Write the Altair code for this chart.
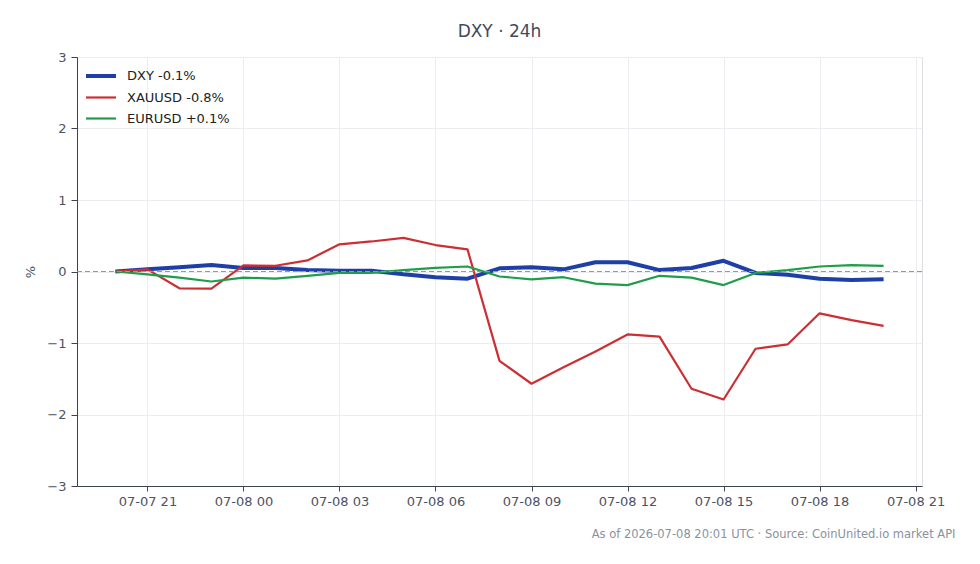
import altair as alt
import pandas as pd

# Hourly timestamps (local time) for the 24h window
hours = [
    "2026-07-07T20:00", "2026-07-07T21:00", "2026-07-07T22:00", "2026-07-07T23:00",
    "2026-07-08T00:00", "2026-07-08T01:00", "2026-07-08T02:00", "2026-07-08T03:00",
    "2026-07-08T04:00", "2026-07-08T05:00", "2026-07-08T06:00", "2026-07-08T07:00",
    "2026-07-08T08:00", "2026-07-08T09:00", "2026-07-08T10:00", "2026-07-08T11:00",
    "2026-07-08T12:00", "2026-07-08T13:00", "2026-07-08T14:00", "2026-07-08T15:00",
    "2026-07-08T16:00", "2026-07-08T17:00", "2026-07-08T18:00", "2026-07-08T19:00",
    "2026-07-08T20:00",
]

# Percent change from the start of the window
dxy = [0.00, 0.03, 0.06, 0.09, 0.05, 0.05, 0.02, 0.01, 0.01, -0.04, -0.08, -0.10,
       0.045, 0.06, 0.03, 0.13, 0.13, 0.02, 0.05, 0.15, -0.02, -0.045, -0.10, -0.12, -0.11]
xauusd = [0.00, 0.03, -0.235, -0.24, 0.085, 0.08, 0.155, 0.38, 0.42, 0.47, 0.37, 0.31,
          -1.25, -1.57, -1.34, -1.12, -0.88, -0.91, -1.64, -1.79, -1.08, -1.02, -0.585, -0.68, -0.76]
eurusd = [0.00, -0.04, -0.085, -0.14, -0.085, -0.10, -0.06, -0.02, -0.02, 0.02, 0.05, 0.07,
          -0.07, -0.11, -0.08, -0.17, -0.19, -0.06, -0.085, -0.19, -0.02, 0.02, 0.07, 0.09, 0.08]

series_names = ["DXY", "XAUUSD", "EURUSD"]
series_values = [dxy, xauusd, eurusd]
series_colors = ["#1e3fa6", "#cc2f33", "#1f9d4b"]
series_widths = [4, 2.2, 2.2]

y_ticks = [-3, -2, -1, 0, 1, 2, 3]
x_ticks = [
    alt.DateTime(year=2026, month=7, date=7, hours=21),
    alt.DateTime(year=2026, month=7, date=8, hours=0),
    alt.DateTime(year=2026, month=7, date=8, hours=3),
    alt.DateTime(year=2026, month=7, date=8, hours=6),
    alt.DateTime(year=2026, month=7, date=8, hours=9),
    alt.DateTime(year=2026, month=7, date=8, hours=12),
    alt.DateTime(year=2026, month=7, date=8, hours=15),
    alt.DateTime(year=2026, month=7, date=8, hours=18),
    alt.DateTime(year=2026, month=7, date=8, hours=21),
]
x_domain = [
    alt.DateTime(year=2026, month=7, date=7, hours=18, minutes=48),
    alt.DateTime(year=2026, month=7, date=8, hours=21, minutes=12),
]

footer = "As of 2026-07-08 20:01 UTC · Source: CoinUnited.io market API"

# Legend label carries the net change over the window
labels = [f"{n} {v[-1]:+.1f}%" for n, v in zip(series_names, series_values)]

rows = []
for label, values in zip(labels, series_values):
    for t, v in zip(hours, values):
        rows.append({"time": t, "pct": v, "series": label})
df = pd.DataFrame(rows)

FONT = "DejaVu Sans"
TEXT = "#4a5466"

x_enc = alt.X(
    "time:T",
    scale=alt.Scale(domain=x_domain),
    axis=alt.Axis(
        values=x_ticks, format="%m-%d %H", grid=True, gridColor="#ebedf0",
        tickSize=5, labelPadding=4, labelFontSize=13, labelColor=TEXT, labelFont=FONT,
        domainColor="#3b4252", tickColor="#3b4252", labelFlush=False,
        title=footer, titleFont=FONT, titleFontSize=11.5, titleFontWeight="normal",
        titleColor="#8a929e", titleAnchor="end", titleAlign="right",
        titleBaseline="alphabetic", titleX=878, titleY=51,
    ),
)
y_enc = alt.Y(
    "pct:Q",
    scale=alt.Scale(domain=[-3, 3], nice=False),
    axis=alt.Axis(
        values=y_ticks, format="d", grid=True, gridColor="#ebedf0",
        tickSize=6, labelPadding=5, labelFontSize=13, labelColor=TEXT, labelFont=FONT,
        domainColor="#3b4252", tickColor="#3b4252",
        title="%", titleFont=FONT, titleFontSize=13, titleFontWeight="normal",
        titleColor=TEXT, titlePadding=9,
    ),
)

zero = pd.DataFrame({"pct": [0]})
zero_line = alt.Chart(zero).mark_rule(
    color="#8c9bb0", strokeDash=[5, 3], strokeWidth=1
).encode(y="pct:Q")

legend = alt.Legend(
    title=None, orient="none", legendX=12, legendY=7,
    symbolType="M-1.5,0H1.5", symbolSize=400,
    labelFont=FONT, labelFontSize=13, labelColor="#222222",
    rowPadding=2, labelOffset=14, padding=0,
)

lines = alt.Chart(df).mark_line(strokeJoin="round").encode(
    x=x_enc,
    y=y_enc,
    color=alt.Color(
        "series:N",
        scale=alt.Scale(domain=labels, range=series_colors),
        legend=legend,
    ),
    strokeWidth=alt.StrokeWidth(
        "series:N",
        scale=alt.Scale(type="ordinal", domain=labels, range=series_widths),
        legend=legend,
    ),
    order=alt.Order("time:T"),
)

chart = alt.layer(lines, zero_line).properties(
    width=845,
    height=429,
    title=alt.TitleParams(
        "DXY · 24h", font=FONT, fontSize=17, fontWeight="normal",
        color="#414b5c", anchor="middle", offset=10,
    ),
    autosize=alt.AutoSizeParams(type="none"),
    padding={"left": 77, "top": 57, "right": 58, "bottom": 78},
).configure_view(stroke=None).configure(background="white")

chart.save("out.html", embed_options={"renderer": "svg", "actions": False})
